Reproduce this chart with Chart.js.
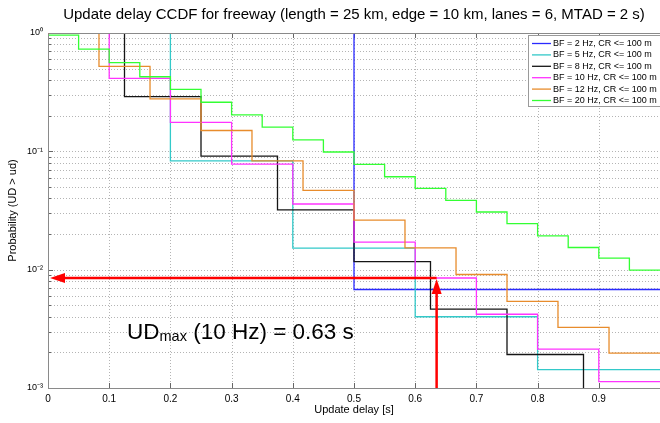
<!DOCTYPE html>
<html>
<head>
<meta charset="utf-8">
<script src="https://cdn.jsdelivr.net/npm/chart.js@4.4.1/dist/chart.umd.min.js"></script>
<style>
  html, body { margin: 0; padding: 0; background: #fff; }
  #wrap { width: 660px; height: 423px; position: relative; }
</style>
</head>
<body>
<div id="wrap"><canvas id="cv"></canvas></div>
<script>
// ── data ─────────────────────────────────────────────────────────────────────
const titleText = 'Update delay CCDF for freeway (length = 25 km, edge = 10 km, lanes = 6, MTAD = 2 s)';
const xTicks = [0, 0.1, 0.2, 0.3, 0.4, 0.5, 0.6, 0.7, 0.8, 0.9, 1.0];
const yTicks = [0.001, 0.002, 0.003, 0.004, 0.005, 0.006, 0.007, 0.008, 0.009,
                0.01, 0.02, 0.03, 0.04, 0.05, 0.06, 0.07, 0.08, 0.09,
                0.1, 0.2, 0.3, 0.4, 0.5, 0.6, 0.7, 0.8, 0.9, 1];
const yMajorLabels = { 1: '10⁰', 0.1: '10⁻¹', 0.01: '10⁻²', 0.001: '10⁻³' };

const bf2X  = [0, 0.5, 1.0];
const bf2Y  = [1, 0.0068, 0.0068];
const bf5X  = [0, 0.2, 0.4, 0.6, 0.8, 1.0];
const bf5Y  = [1, 0.083, 0.0152, 0.0040, 0.00143, 0.00143];
const bf8X  = [0, 0.125, 0.25, 0.375, 0.5, 0.625, 0.75, 0.875, 1.0];
const bf8Y  = [1, 0.29, 0.091, 0.032, 0.0117, 0.00464, 0.00192, 0.0001, 0.0001];
const bf10X = [0, 0.1, 0.2, 0.3, 0.4, 0.5, 0.6, 0.7, 0.8, 0.9, 1.0];
const bf10Y = [1, 0.414, 0.176, 0.078, 0.0359, 0.0171, 0.0085, 0.0042, 0.00213, 0.00113, 0.00113];
const bf12X = [0, 0.0833, 0.1667, 0.25, 0.3333, 0.4167, 0.5, 0.5833, 0.6667, 0.75, 0.8333, 0.9167, 1.0];
const bf12Y = [1, 0.523, 0.278, 0.150, 0.083, 0.0468, 0.0262, 0.0153, 0.0091, 0.0054, 0.00325, 0.00197, 0.00197];
const bf20X = [0, 0.05, 0.1, 0.15, 0.2, 0.25, 0.3, 0.35, 0.4, 0.45, 0.5,
               0.55, 0.6, 0.65, 0.7, 0.75, 0.8, 0.85, 0.9, 0.95, 1.0];
const bf20Y = [0.96, 0.73, 0.561, 0.427, 0.334, 0.26, 0.203, 0.160, 0.125, 0.0987, 0.0777,
               0.061, 0.0486, 0.0385, 0.0307, 0.0245, 0.0193, 0.0154, 0.0125, 0.0099, 0.0099];

const seriesLabels = ['BF = 2 Hz, CR <= 100 m', 'BF = 5 Hz, CR <= 100 m', 'BF = 8 Hz, CR <= 100 m',
                      'BF = 10 Hz, CR <= 100 m', 'BF = 12 Hz, CR <= 100 m', 'BF = 20 Hz, CR <= 100 m'];
const seriesColors = ['#2a2aff', '#33c9c9', '#151515', '#ff33ff', '#e88c2c', '#33ff33'];

// UD_max marker (10 Hz)
const udMaxX = 0.635;
const udMaxY = 0.0085;

// ── chart ────────────────────────────────────────────────────────────────────
const FONT = '"Liberation Sans", Arial, sans-serif';
const pts = (xs, ys) => xs.map((x, i) => ({ x, y: ys[i] }));
const allX = [bf2X, bf5X, bf8X, bf10X, bf12X, bf20X];
const allY = [bf2Y, bf5Y, bf8Y, bf10Y, bf12Y, bf20Y];

const datasets = seriesLabels.map((label, i) => ({
  label,
  data: pts(allX[i], allY[i]),
  borderColor: seriesColors[i],
  backgroundColor: seriesColors[i],
  borderWidth: 1.3,
  stepped: 'before',
  pointRadius: 0,
  fill: false,
  order: 6 - i,
}));

const overlay = {
  id: 'overlay',
  beforeDatasetsDraw(chart) {
    // dotted grid, MATLAB style
    const { ctx, chartArea: a, scales: { x, y } } = chart;
    ctx.save();
    ctx.strokeStyle = '#b4b4b4';
    ctx.lineWidth = 1;
    ctx.setLineDash([1, 2]);
    ctx.beginPath();
    xTicks.forEach(v => {
      const px = Math.round(x.getPixelForValue(v)) + 0.5;
      ctx.moveTo(px, a.top);
      ctx.lineTo(px, a.bottom);
    });
    yTicks.forEach(v => {
      const py = Math.round(y.getPixelForValue(v)) + 0.5;
      ctx.moveTo(a.left, py);
      ctx.lineTo(a.right, py);
    });
    ctx.stroke();
    ctx.setLineDash([]);
    // small inner ticks
    ctx.strokeStyle = '#666';
    ctx.beginPath();
    xTicks.forEach(v => {
      const px = Math.round(x.getPixelForValue(v)) + 0.5;
      ctx.moveTo(px, a.bottom); ctx.lineTo(px, a.bottom - 5);
      ctx.moveTo(px, a.top); ctx.lineTo(px, a.top + 5);
    });
    yTicks.forEach(v => {
      const py = Math.round(y.getPixelForValue(v)) + 0.5;
      const len = yMajorLabels[v] ? 5 : 3;
      ctx.moveTo(a.left, py); ctx.lineTo(a.left + len, py);
    });
    ctx.stroke();
    ctx.restore();
  },
  afterDatasetsDraw(chart) {
    const { ctx, chartArea: a, scales: { x, y } } = chart;
    ctx.save();

    // frame
    ctx.strokeStyle = '#8a8a8a';
    ctx.lineWidth = 1;
    ctx.beginPath();
    ctx.moveTo(a.left + 0.5, a.bottom + 0.5);
    ctx.lineTo(a.left + 0.5, a.top + 0.5);
    ctx.lineTo(a.right, a.top + 0.5);
    ctx.moveTo(a.left, a.bottom + 0.5);
    ctx.lineTo(a.right, a.bottom + 0.5);
    ctx.stroke();

    // red arrows
    const px = x.getPixelForValue(udMaxX);
    const py = y.getPixelForValue(udMaxY);
    ctx.strokeStyle = '#ff0000';
    ctx.fillStyle = '#ff0000';
    ctx.lineWidth = 2.5;
    ctx.beginPath();
    ctx.moveTo(px, py);
    ctx.lineTo(a.left + 14, py);
    ctx.moveTo(px, a.bottom);
    ctx.lineTo(px, py + 14);
    ctx.stroke();
    ctx.beginPath();
    ctx.moveTo(a.left + 2, py);
    ctx.lineTo(a.left + 17, py - 5);
    ctx.lineTo(a.left + 17, py + 5);
    ctx.closePath();
    ctx.fill();
    ctx.beginPath();
    ctx.moveTo(px, py + 1);
    ctx.lineTo(px - 5, py + 16);
    ctx.lineTo(px + 5, py + 16);
    ctx.closePath();
    ctx.fill();

    // annotation text
    ctx.fillStyle = '#000';
    ctx.textBaseline = 'alphabetic';
    ctx.textAlign = 'left';
    let tx = 127;
    const ty = 339;
    ctx.font = '22.5px ' + FONT;
    ctx.fillText('UD', tx, ty);
    tx += ctx.measureText('UD').width;
    ctx.font = '14.5px ' + FONT;
    ctx.fillText('max', tx, ty + 2);
    tx += ctx.measureText('max').width;
    ctx.font = '22.5px ' + FONT;
    ctx.fillText(' (10 Hz) = 0.63 s', tx, ty);

    // legend box
    const lx = 528, ly = 35.5, lw = 140, lh = 71;
    ctx.fillStyle = '#fff';
    ctx.fillRect(lx, ly, lw, lh);
    ctx.strokeStyle = '#9a9a9a';
    ctx.lineWidth = 1;
    ctx.strokeRect(lx + 0.5, ly, lw, lh);
    ctx.font = '9px ' + FONT;
    ctx.textBaseline = 'middle';
    seriesLabels.forEach((lab, i) => {
      const rowY = 43.5 + i * 11.4;
      ctx.strokeStyle = seriesColors[i];
      ctx.lineWidth = 1.3;
      ctx.beginPath();
      ctx.moveTo(532, rowY);
      ctx.lineTo(551, rowY);
      ctx.stroke();
      ctx.fillStyle = '#000';
      ctx.fillText(lab, 553, rowY);
    });

    // title
    ctx.font = '15px ' + FONT;
    ctx.textAlign = 'center';
    ctx.textBaseline = 'middle';
    ctx.fillStyle = '#000';
    ctx.fillText(titleText, 354, 15);
    ctx.restore();
  }
};

new Chart(document.getElementById('cv').getContext('2d'), {
  type: 'line',
  data: { datasets },
  options: {
    responsive: true,
    maintainAspectRatio: false,
    animation: false,
    layout: { padding: { top: 33, right: 0, left: 0, bottom: 0 } },
    plugins: { legend: { display: false }, tooltip: { enabled: false } },
    scales: {
      x: {
        type: 'linear', min: 0, max: 1,
        afterFit: s => { s.height = 35; s.paddingLeft = 0; s.paddingRight = 0; },
        afterBuildTicks: s => { s.ticks = xTicks.map(v => ({ value: v })); },
        ticks: {
          autoSkip: false, maxRotation: 0, padding: 5,
          font: { size: 10, family: FONT }, color: '#000',
          callback: v => (v >= 1 ? '' : String(Math.round(v * 10) / 10)),
        },
        grid: { display: false, drawTicks: false },
        border: { display: false },
        title: { display: true, text: 'Update delay [s]', font: { size: 11, family: FONT }, color: '#000', padding: { top: 0, bottom: 6 } },
      },
      y: {
        type: 'logarithmic', min: 0.001, max: 1,
        afterFit: s => { s.width = 48; s.paddingTop = 0; s.paddingBottom = 0; },
        afterBuildTicks: s => { s.ticks = yTicks.map(v => ({ value: v })); },
        ticks: {
          autoSkip: false, padding: 5,
          font: { size: 9, family: FONT }, color: '#000',
          callback: v => yMajorLabels[v] || '',
        },
        grid: { display: false, drawTicks: false },
        border: { display: false },
        title: { display: true, text: 'Probability (UD > ud)', font: { size: 11, family: FONT }, color: '#000', padding: { top: 6, bottom: 0 } },
      },
    },
  },
  plugins: [overlay],
});
</script>
</body>
</html>
